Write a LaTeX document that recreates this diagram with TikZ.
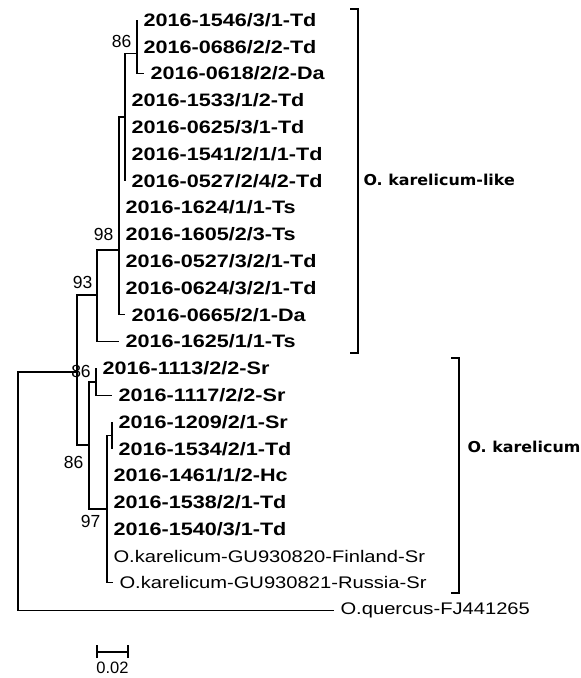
\documentclass[tikz,border=0pt]{standalone}
\usepackage{fontspec}
\setmainfont{Liberation Sans}
\newfontfamily\taxfont[FakeStretch=1.2]{Liberation Sans}
\newfontfamily\taxbold[FakeStretch=1.2]{Liberation Sans Bold}
\newfontfamily\cladefont[FakeStretch=1.06]{DejaVu Sans Bold}
\usetikzlibrary{positioning}

\begin{document}
\begin{tikzpicture}[x=1pt,y=-1pt,line width=1.1pt,
	taxon/.style={anchor=west,inner xsep=6pt,inner ysep=0pt,font=\taxbold\fontsize{18}{20}\selectfont},
	refseq/.style={anchor=west,inner xsep=6pt,inner ysep=0pt,font=\taxfont\fontsize{16.8}{20}\selectfont},
	bstrap/.style={inner sep=0pt,font=\fontsize{17.5}{19}\selectfont},
	cladelab/.style={anchor=west,inner sep=0pt,font=\cladefont\fontsize{15}{18}\selectfont}
	]
	\useasboundingbox (0,0) rectangle (581,678);

	% tips
	\node[taxon] (t1) at (137,20) {2016-1546/3/1-Td};
	\node[taxon] (t2) at (137,46.8) {2016-0686/2/2-Td};
	\node[taxon] (t3) at (144,73.6) {2016-0618/2/2-Da};
	\node[taxon] (t4) at (125,100.4) {2016-1533/1/2-Td};
	\node[taxon] (t5) at (125,127.2) {2016-0625/3/1-Td};
	\node[taxon] (t6) at (125,154) {2016-1541/2/1/1-Td};
	\node[taxon] (t7) at (125,180.8) {2016-0527/2/4/2-Td};
	\node[taxon] (t8) at (119,207.6) {2016-1624/1/1-Ts};
	\node[taxon] (t9) at (119,234.4) {2016-1605/2/3-Ts};
	\node[taxon] (t10) at (119,261.2) {2016-0527/3/2/1-Td};
	\node[taxon] (t11) at (119,288) {2016-0624/3/2/1-Td};
	\node[taxon] (t12) at (125,314.8) {2016-0665/2/1-Da};
	\node[taxon] (t13) at (119,341.6) {2016-1625/1/1-Ts};
	\node[taxon] (t14) at (96,368.4) {2016-1113/2/2-Sr};
	\node[taxon] (t15) at (112,395.2) {2016-1117/2/2-Sr};
	\node[taxon] (t16) at (112,422) {2016-1209/2/1-Sr};
	\node[taxon] (t17) at (112,448.8) {2016-1534/2/1-Td};
	\node[taxon] (t18) at (107,475.6) {2016-1461/1/2-Hc};
	\node[taxon] (t19) at (107,502.4) {2016-1538/2/1-Td};
	\node[taxon] (t20) at (107,529.2) {2016-1540/3/1-Td};
	\node[refseq] (t21) at (107,556) {O.karelicum-GU930820-Finland-Sr};
	\node[refseq] (t22) at (113,582.8) {O.karelicum-GU930821-Russia-Sr};
	\node[refseq] (t23) at (334,610.6) {O.quercus-FJ441265};

	% inner nodes
	\coordinate (root) at (18,491);
	\coordinate (ing) at (77,372);
	\coordinate (n93) at (97,295);
	\coordinate (n98) at (119,250);
	\coordinate (nA) at (125,117);
	\coordinate (n86a) at (137,53.5);
	\coordinate (n86b) at (89,445);
	\coordinate (nS) at (96,382);
	\coordinate (n97) at (107,509);
	\coordinate (nB) at (112,435.4);

	% branches
	\draw (root) |- (ing) (root) |- (t23.west);
	\draw (ing) |- (n93) (ing) |- (n86b);
	\draw (n93) |- (n98) (n93) |- (t13.west);
	\draw (n98) |- (nA) (n98) |- (t12.west);
	\draw (nA) |- (n86a) (nA) |- (t7.west);
	\draw (n86a) |- (t1.west) (n86a) |- (t3.west);
	\draw (n86b) |- (nS) (n86b) |- (n97);
	\draw (nS) |- (t14.west) (nS) |- (t15.west);
	\draw (n97) |- (nB) (n97) |- (t22.west);
	\draw (nB) |- (t16.west) (nB) |- (t17.west);

	% bootstrap values
	\node[bstrap,anchor=south east] (b86a) at (132,48) {86};
	\node[bstrap,anchor=south east] (b98) at (114,241) {98};
	\node[bstrap,anchor=south east] (b93) at (93,289) {93};
	\node[bstrap] (b86m) at (81,371) {86};
	\node[bstrap,anchor=north east] (b86b) at (84,456) {86};
	\node[bstrap,anchor=north east] (b97) at (101,515) {97};

	% clade brackets
	\coordinate (kA1) at (350,9);
	\coordinate (kA2) at (350,353);
	\draw[line width=1.2pt] (kA1) -- ++(8,0) |- (kA2);
	\node[cladelab] (like) at (363,180) {O. karelicum-like};
	\coordinate (kB1) at (451,358);
	\coordinate (kB2) at (451,593);
	\draw[line width=1.2pt] (kB1) -- ++(8,0) |- (kB2);
	\node[cladelab] (kar) at (467,447) {O. karelicum};

	% scale bar
	\coordinate (s1) at (97,652);
	\coordinate (s2) at (128,652);
	\draw (s1) -- (s2);
	\draw ([yshift=-6pt]s1) -- ([yshift=7pt]s1) ([yshift=-6pt]s2) -- ([yshift=7pt]s2);
	\node[bstrap,font=\fontsize{16.5}{18}\selectfont] (slab) at (112.5,668) {0.02};
\end{tikzpicture}
\end{document}
